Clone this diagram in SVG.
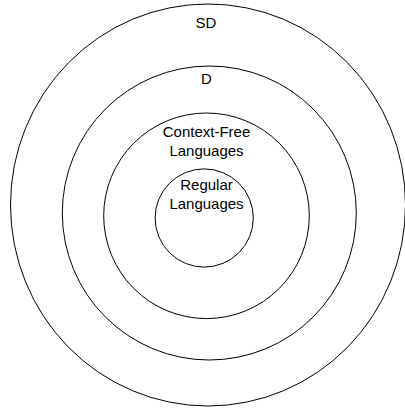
<svg xmlns="http://www.w3.org/2000/svg" width="405" height="409" viewBox="0 0 405 409">
<style>
.c{fill:none;stroke:#000;stroke-width:1}
.t{font-family:"Liberation Sans",Arial,sans-serif;font-size:15px;fill:#000;text-anchor:middle}
</style>
<rect width="405" height="409" fill="#fff"/>
<g id="sd"><ellipse class="c" cx="208" cy="205" rx="197.5" ry="201"/><text class="t" x="206" y="28">SD</text></g>
<g id="d"><circle class="c" cx="209.3" cy="213" r="147"/><text class="t" x="206.5" y="84">D</text></g>
<g id="cf"><circle class="c" cx="206.5" cy="215.8" r="102.8"/><text class="t" x="206.5" y="136.5">Context-Free</text><text class="t" x="206.5" y="155.5">Languages</text></g>
<g id="reg"><circle class="c" cx="204.2" cy="218" r="49.1"/><text class="t" x="206.5" y="190">Regular</text><text class="t" x="206.5" y="209">Languages</text></g>
<g id="connectors"></g>
</svg>
